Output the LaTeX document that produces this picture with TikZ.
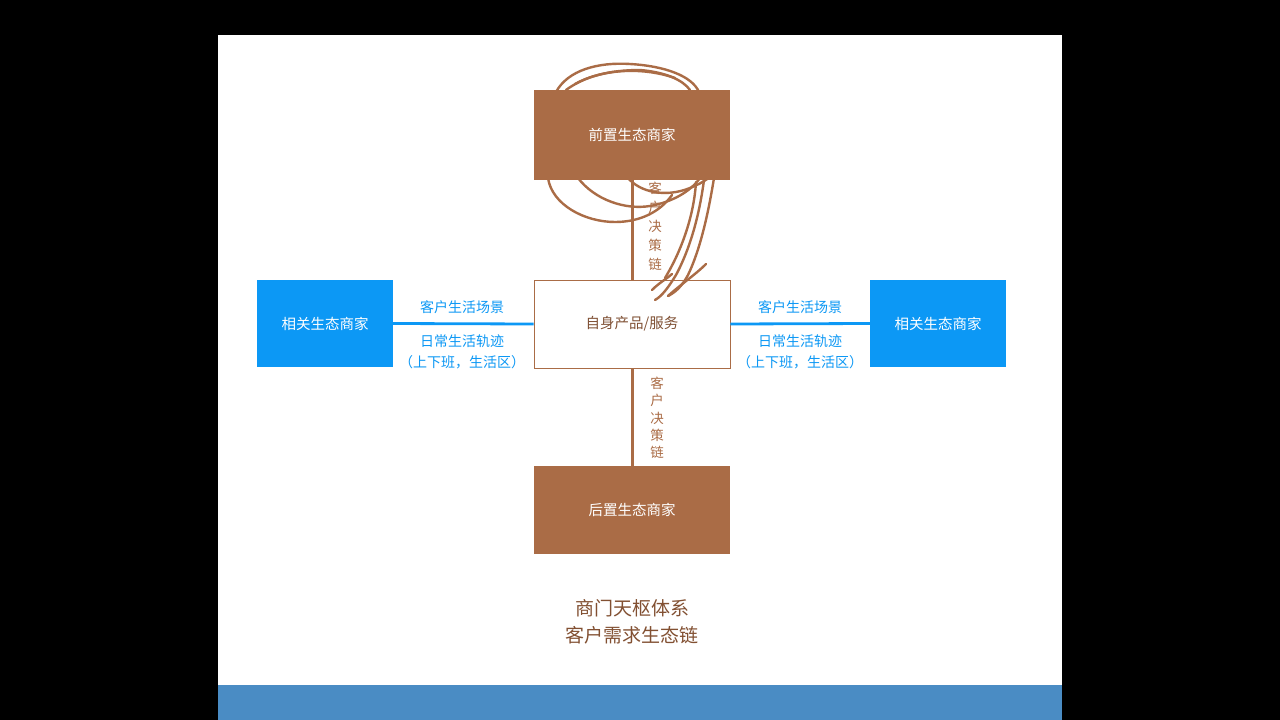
\documentclass[tikz,border=0pt]{standalone}
\usepackage{fontspec}
\setmainfont{Noto Sans CJK SC}
\begin{document}
\definecolor{brownfill}{RGB}{170,108,70}
\definecolor{bluefill}{RGB}{12,152,245}
\definecolor{strip}{RGB}{74,140,196}
\definecolor{titlebrown}{RGB}{130,80,50}
\begin{tikzpicture}[x=1pt,y=-1pt,
  brownbox/.style={fill=brownfill,draw=none,minimum width=196pt,minimum height=90pt,inner sep=0pt,text=white,font=\fontsize{14.5}{16}\selectfont},
  corebox/.style={fill=white,draw=brownfill,line width=0.8pt,minimum width=196pt,minimum height=88pt,inner sep=0pt,text=brownfill!75!black,font=\fontsize{14.5}{16}\selectfont},
  bluebox/.style={fill=bluefill,draw=none,minimum width=136pt,minimum height=87pt,inner sep=0pt,text=white,font=\fontsize{14.5}{16}\selectfont},
  bluelink/.style={draw=bluefill,line width=2.8pt},
  brownlink/.style={draw=brownfill,line width=3pt},
  bluelabel/.style={text=bluefill,font=\fontsize{14}{21}\selectfont,align=center,inner sep=0pt},
  vlabel/.style={text=brownfill,font=\fontsize{13.5}{17.3}\selectfont,align=center,inner sep=0pt},
  ink/.style={draw=brownfill,line width=2.4pt,line cap=round,line join=round},
  titletext/.style={text=titlebrown,font=\fontsize{19}{27}\selectfont,align=center,inner sep=0pt}]
\useasboundingbox (0,0) rectangle (1280,720);
% slide background
\fill[black] (0,0) rectangle (1280,720);
\fill[white] (218,35) rectangle (1062,685);
\fill[strip] (218,685) rectangle (1062,720);

% boxes
\node[brownbox] (pre) at (632,135) {前置生态商家};
\node[corebox] (core) at (632,324) {自身产品/服务};
\node[brownbox,minimum height=88pt] (post) at (632,510) {后置生态商家};
\node[bluebox] (left) at (325,323.5) {相关生态商家};
\node[bluebox] (right) at (938,323.5) {相关生态商家};

% connectors
\draw[bluelink] (left.east) -- (core.west);
\draw[bluelink] (core.east) -- (right.west);
\draw[brownlink] (pre.south) -- (core.north);
\draw[brownlink] (core.south) -- (post.north);

% connector labels
\node[bluelabel] (lt) at (462,307) {客户生活场景};
\node[bluelabel] (lb) at (462,351.5) {日常生活轨迹\\（上下班，生活区）};
\node[bluelabel] (rt) at (800,307) {客户生活场景};
\node[bluelabel] (rb) at (800,351.5) {日常生活轨迹\\（上下班，生活区）};
\node[vlabel,font=\fontsize{13.5}{19}\selectfont] (vt) at (655,226) {客\\户\\决\\策\\链};
\node[vlabel] (vb) at (657,418) {客\\户\\决\\策\\链};

% title
\node[titletext] (title) at (632,622) {商门天枢体系\\客户需求生态链};

% hand-drawn ink over the upper box
\draw[ink] (556,92) .. controls (568,70) and (598,62) .. (630,64)
  .. controls (665,66) and (692,76) .. (699,92);
\draw[ink] (566,90) .. controls (585,76) and (610,70) .. (640,70)
  .. controls (665,72) and (683,80) .. (690,90);
\draw[ink] (575,84) .. controls (600,70) and (640,66) .. (675,78);
\draw[ink] (548,178) .. controls (552,205) and (585,222) .. (615,222)
  .. controls (640,222) and (660,212) .. (672,195);
\draw[ink] (578,178) .. controls (595,200) and (625,210) .. (650,206)
  .. controls (672,202) and (690,192) .. (700,178);
\draw[ink] (628,178) .. controls (640,192) and (665,198) .. (690,188)
  .. controls (705,182) and (712,176) .. (716,170);
\draw[ink] (704,180) .. controls (700,210) and (692,245) .. (676,275)
  .. controls (668,288) and (662,296) .. (655,300);
\draw[ink] (714,178) .. controls (708,215) and (700,250) .. (688,275)
  .. controls (682,286) and (676,292) .. (668,296);
\draw[ink] (696,182) .. controls (694,215) and (682,250) .. (665,278);
\draw[ink] (668,296) .. controls (680,285) and (695,275) .. (706,264);
\draw[ink] (652,290) .. controls (660,282) and (668,278) .. (672,274);
\draw[ink] (700,178) .. controls (704,168) and (712,162) .. (718,170);
\end{tikzpicture}
\end{document}
